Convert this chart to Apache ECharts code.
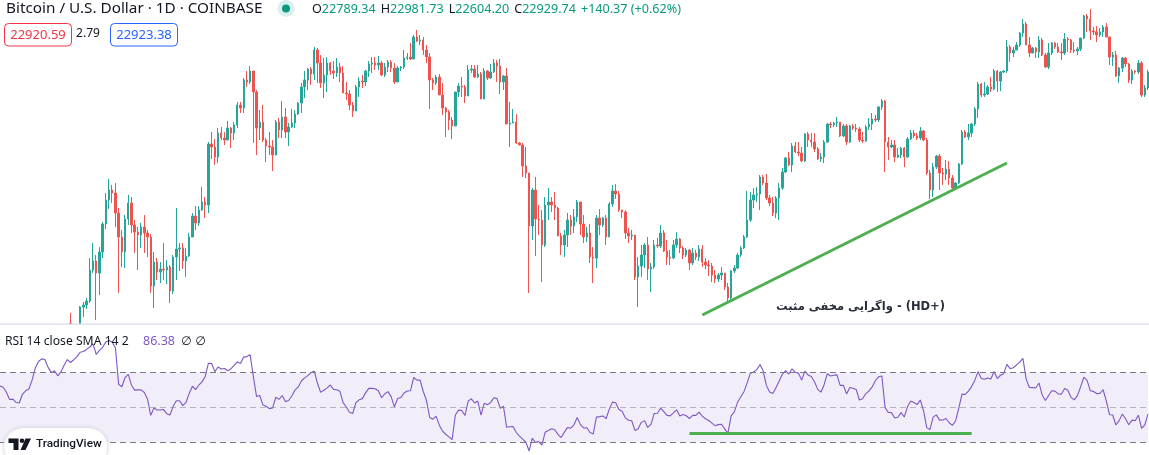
<!DOCTYPE html>
<html><head><meta charset="utf-8">
<script src="https://cdn.jsdelivr.net/npm/echarts/dist/echarts.min.js"></script>
<style>html,body{margin:0;padding:0;background:#fff;overflow:hidden}#c{width:1149px;height:455px}</style>
</head><body><div id="c"></div>
<script>
// Daily BTC/USD candles (price in chart units, 0 = bottom of price pane). Open = previous close.
const hiddenLeadDays = 22;   // days shown only in the RSI pane (price below visible range)
const firstOpen = 0;
const closes = [
-1,-1,-1,16,18,22,53,62,50,71,
99,123,133,130,110,86,71,104,120,98,
91,88,96,90,86,37,61,51,54,53,
56,32,66,74,75,62,67,86,107,100,
113,121,118,179,176,166,190,185,183,195,
190,198,218,215,243,241,252,231,195,201,
183,177,176,168,201,193,206,191,196,200,
209,220,236,243,254,249,273,260,240,248,
260,252,250,256,250,230,229,218,212,236,
242,241,252,259,260,258,260,248,256,261,
255,241,255,256,265,266,264,286,282,283,
273,266,243,240,246,228,215,211,203,197,
231,237,236,227,253,254,246,249,224,252,
245,251,260,257,241,247,199,200,201,180,
178,157,150,97,133,104,103,78,118,121,
118,115,87,78,88,103,97,106,121,99,
86,90,66,65,105,98,105,86,119,132,
129,113,111,90,87,88,46,57,68,78,
54,56,78,77,90,72,66,65,78,84,
75,68,73,60,70,66,74,61,58,57,
48,44,48,50,36,25,52,55,68,75,
86,103,123,128,129,146,140,125,120,110,
125,135,151,165,158,177,171,170,162,189,
183,181,174,164,166,181,199,198,200,201,
187,197,181,197,195,194,183,182,196,199,
204,203,216,222,181,176,178,166,168,175,
166,184,190,187,185,192,183,150,133,156,
167,150,149,154,145,135,140,159,191,186,
190,199,214,239,228,229,236,234,252,242,
251,252,276,270,273,278,290,299,278,270,
275,271,283,268,256,270,280,276,271,270,
284,283,273,272,274,285,307,304,292,291,
288,291,296,286,266,268,247,255,265,259,
243,252,251,260,228,235,251];
const highs = [
10,-1,-1,17,21,25,65,80,68,76,
101,130,144,138,140,115,93,108,128,126,
103,96,100,108,93,89,71,65,61,80,
63,58,68,115,80,80,75,90,110,117,
117,136,126,181,191,184,195,196,191,202,
196,201,221,221,245,252,257,252,233,213,
218,185,191,183,203,205,222,215,200,214,
213,221,240,252,255,256,276,275,268,265,
266,261,262,265,260,257,241,233,221,238,
246,248,253,262,266,266,267,262,260,263,
263,260,257,257,273,270,280,288,293,288,
286,278,270,245,248,249,240,216,213,206,
231,240,246,238,258,258,258,258,251,255,
253,259,264,263,264,248,255,221,214,209,
181,180,176,150,135,146,118,113,126,135,
126,131,116,90,93,110,108,114,123,121,
108,96,99,76,108,114,106,108,121,138,
139,132,113,113,95,93,87,66,78,80,
86,60,83,85,98,93,83,73,83,91,
85,77,75,74,75,73,78,78,65,63,
60,53,50,56,50,40,53,58,70,77,
88,132,131,135,136,148,148,149,128,126,
127,140,155,166,171,180,181,181,176,190,
191,190,190,176,170,183,200,201,201,206,
201,199,199,198,199,199,196,191,198,205,
210,208,217,224,223,186,183,183,175,176,
176,186,193,193,190,196,193,185,153,160,
168,169,155,163,162,148,141,160,193,193,
199,200,216,241,240,241,238,246,254,253,
252,253,283,278,276,281,291,304,301,286,
276,276,287,285,270,280,281,281,280,280,
290,286,284,281,276,285,308,309,314,296,
297,295,298,300,286,271,272,256,266,266,
260,254,253,263,262,238,253];
const lows = [
-1,-1,-1,-1,6,14,20,50,3,28,
65,94,114,120,96,30,56,55,98,90,
70,53,75,70,66,30,15,43,40,43,
39,20,29,43,52,54,46,66,86,93,
97,112,105,110,164,158,160,183,178,183,
175,183,195,210,210,236,239,180,168,183,
181,161,168,152,168,185,185,185,177,195,
195,208,210,225,233,238,243,240,235,225,
231,248,244,246,241,230,223,213,206,212,
226,235,237,246,250,253,253,247,246,251,
251,239,241,252,254,263,263,264,281,278,
268,260,214,233,238,228,208,186,193,184,
197,226,226,220,227,250,245,245,224,224,
243,244,250,241,229,233,199,176,200,179,
178,146,145,30,83,67,88,41,76,103,
111,103,87,68,66,76,88,90,101,88,
80,81,60,40,55,88,96,78,86,116,
124,111,105,84,80,83,43,16,46,55,
43,31,54,75,75,71,58,58,64,75,
70,64,66,53,58,63,62,56,54,47,
41,40,41,43,33,21,23,50,54,66,
74,85,101,115,121,113,138,123,117,107,
105,103,133,150,157,151,170,167,161,161,
176,176,171,163,161,160,180,195,196,196,
186,186,178,180,193,191,181,180,181,193,
193,201,201,213,151,163,175,161,165,165,
156,165,183,185,183,183,182,148,124,126,
154,133,138,143,138,134,134,139,158,185,
183,186,197,205,226,226,228,231,233,231,
232,250,250,261,266,273,276,286,278,266,
270,265,265,267,255,254,268,274,270,263,
268,271,270,270,268,272,284,291,283,288,
281,286,286,286,258,257,246,240,251,256,
240,239,249,249,226,226,233];
// RSI 14 (one value per day, including the lead days)
const rsiValues = [
62.2,61.5,58.7,54.5,54.7,52.8,52.5,57.5,59.5,60.5,
65.6,72.5,76.3,77.8,77.4,72.9,69.9,71.0,68.1,70.3,
74.1,77.4,75.7,77.3,79.1,81.6,82.0,83.2,84.6,86.4,
80.4,82.7,84.4,87.4,88.3,87.5,84.0,63.2,61.8,67.1,
68.9,62.7,59.9,60.0,60.0,58.5,54.8,45.4,49.6,48.5,
48.5,48.8,46.4,45.6,50.6,53.8,53.8,51.0,52.8,58.0,
62.1,60.2,62.8,64.6,67.7,75.3,75.1,70.5,73.1,72.0,
72.3,71.0,72.0,74.1,76.0,75.1,78.8,79.1,80.2,67.8,
56.2,56.8,51.3,50.6,49.3,49.6,55.8,54.6,56.8,53.3,
53.9,56.5,59.9,61.7,65.1,66.9,68.2,69.9,70.8,63.8,
58.6,59.8,61.2,62.8,60.3,60.1,59.2,52.7,50.2,47.2,
46.5,52.7,54.3,55.0,58.3,60.9,60.9,60.7,59.5,55.5,
57.8,59.0,56.0,50.3,55.1,55.6,58.2,59.4,59.5,67.1,
65.6,65.6,59.1,53.9,44.2,43.2,45.0,39.8,36.4,34.6,
33.1,31.6,45.6,48.4,48.2,45.3,53.6,54.9,52.5,53.6,
45.5,52.3,51.5,52.7,55.5,55.0,49.5,50.6,38.6,38.9,
39.0,35.6,33.5,31.8,30.0,25.0,32.3,29.8,30.4,28.4,
35.8,36.7,37.7,37.2,34.5,32.7,35.8,38.5,38.1,40.0,
44.2,40.1,38.2,38.3,35.6,34.8,44.4,44.7,45.1,43.5,
49.0,53.0,52.6,48.8,47.8,44.0,42.6,42.3,36.8,37.8,
41.4,42.4,38.5,40.3,46.4,46.6,49.5,47.5,45.4,45.1,
46.8,48.6,45.0,45.9,45.2,43.6,45.4,45.4,47.3,45.0,
43.5,42.5,41.0,39.5,40.1,40.3,37.7,35.1,45.1,47.4,
52.9,55.9,59.0,64.0,69.6,70.2,71.6,74.6,70.8,62.6,
58.8,57.9,61.4,65.1,69.1,71.1,69.1,72.1,70.0,69.6,
65.6,70.8,68.6,67.7,64.7,60.3,58.7,63.0,69.3,68.0,
68.4,68.6,62.6,62.7,57.7,61.4,61.0,60.3,54.2,54.9,
57.9,59.4,61.7,65.4,67.5,68.0,50.0,47.1,47.0,43.9,
44.3,47.0,44.5,50.3,53.7,52.8,51.6,54.2,48.1,38.4,
37.3,44.4,45.7,42.7,42.8,43.6,41.2,39.7,42.2,49.6,
57.6,57.4,59.3,61.9,65.6,70.5,66.5,66.1,66.8,66.3,
70.5,66.5,68.4,69.3,74.6,72.2,72.7,74.3,75.9,78.1,
66.2,61.4,61.3,61.1,64.0,57.1,53.9,56.8,59.5,59.3,
57.7,57.6,60.8,59.8,55.7,54.3,56.7,61.8,67.3,65.5,
59.6,59.1,57.9,58.0,60.1,53.7,45.8,45.6,39.9,42.4,
46.2,43.5,40.0,42.7,42.3,45.5,37.9,40.0,46.1];
const rsiLevels = [70, 50, 30];
// trend annotations: [dayIndex, value]
const priceTrend = [[219, 8], [314, 160]];
const rsiTrend = [[215, 35.2], [303, 35.2]];
const header = {
  title: 'Bitcoin / U.S. Dollar · 1D · COINBASE',
  o: '22789.34', h: '22981.73', l: '22604.20', c: '22929.74', chg: '+140.37 (+0.62%)',
  bid: '22920.59', spread: '2.79', ask: '22923.38'
};
const rsiLabel = {name: 'RSI 14 close SMA 14 2', value: '86.38', extra: '∅ ∅'};
const annotation = 'واگرایی مخفی مثبت - (HD+)';

const dayCount = hiddenLeadDays + closes.length;
const categories = Array.from({length: dayCount}, (_, i) => 'D' + (i + 1));
const candleData = [];
for (let i = 0; i < hiddenLeadDays; i++) candleData.push(['-', '-', '-', '-']);
closes.forEach((c, k) => {
  const o = k === 0 ? firstOpen : closes[k - 1];
  candleData.push([o, c, Math.min(lows[k], o, c), Math.max(highs[k], o, c)]);
});

const UI = '"Noto Sans", Roboto, sans-serif';
const chart = echarts.init(document.getElementById('c'), null, {renderer: 'canvas'});
const T = (x, y, text, font, fill, align) => ({type: 'text', z: 60, x, y, style: {text, font, fill,
  align: align || 'left', verticalAlign: 'middle', textAlign: align || 'left', textVerticalAlign: 'middle'}});
chart.setOption({
  animation: false,
  backgroundColor: '#ffffff',
  grid: [
    {left: 0, right: 1, top: 0, height: 323},
    {left: 0, right: 1, top: 325, height: 130}
  ],
  xAxis: [
    {type: 'category', gridIndex: 0, data: categories, boundaryGap: false, show: false},
    {type: 'category', gridIndex: 1, data: categories, boundaryGap: false, show: false}
  ],
  yAxis: [
    {type: 'value', gridIndex: 0, min: 0, max: 323, show: false},
    {type: 'value', gridIndex: 1, min: 22.7, max: 97.2, show: false}
  ],
  series: [
    {
      type: 'candlestick', xAxisIndex: 0, yAxisIndex: 0, data: candleData,
      barWidth: 1.9, clip: true,
      itemStyle: {color: '#26a69a', color0: '#ef5350', borderColor: '#26a69a', borderColor0: '#ef5350', borderWidth: 1},
      markLine: {
        silent: true, symbol: ['none', 'none'], label: {show: false},
        lineStyle: {color: '#4caf50', width: 3, type: 'solid'},
        data: [[{coord: priceTrend[0]}, {coord: priceTrend[1]}]]
      }
    },
    {
      type: 'line', xAxisIndex: 1, yAxisIndex: 1, data: rsiValues,
      symbol: 'none', showSymbol: false, z: 3,
      lineStyle: {color: '#7e57c2', width: 1.1},
      markArea: {silent: true, itemStyle: {color: 'rgba(126,87,194,0.1)'},
        data: [[{yAxis: rsiLevels[2]}, {yAxis: rsiLevels[0]}]]},
      markLine: {
        silent: true, symbol: ['none', 'none'], label: {show: false},
        data: [
          {yAxis: rsiLevels[0], lineStyle: {color: '#787b86', type: [6, 4], width: 1}},
          {yAxis: rsiLevels[1], lineStyle: {color: 'rgba(120,123,134,0.5)', type: [6, 4], width: 1}},
          {yAxis: rsiLevels[2], lineStyle: {color: '#787b86', type: [6, 4], width: 1}},
          [{coord: rsiTrend[0], lineStyle: {color: '#4caf50', width: 3, type: 'solid'}},
           {coord: rsiTrend[1], lineStyle: {color: '#4caf50', width: 3, type: 'solid'}}]
        ]
      }
    }
  ],
  graphic: [
    {type: 'rect', z: 50, shape: {x: 0, y: 323.5, width: 1149, height: 1.5}, style: {fill: '#e0e3eb'}},
    T(6, 9, header.title, '15.3px ' + UI, '#131722'),
    {type: 'circle', z: 60, shape: {cx: 286, cy: 8.5, r: 8.5}, style: {fill: 'rgba(8,153,129,0.15)'}},
    {type: 'circle', z: 61, shape: {cx: 286, cy: 8.5, r: 4}, style: {fill: '#089981'}},
    {type: 'text', z: 60, x: 312, y: 9, style: {
      text: '{k|O}{v|' + header.o + '}{s| }{k|H}{v|' + header.h + '}{s| }{k|L}{v|' + header.l + '}{s| }{k|C}{v|' + header.c + '}{s| }{v|' + header.chg + '}',
      font: '12.6px ' + UI, align: 'left', verticalAlign: 'middle', textAlign: 'left', textVerticalAlign: 'middle',
      rich: {k: {fill: '#131722', font: '12.6px ' + UI}, v: {fill: '#089981', font: '12.6px ' + UI}, s: {font: '12.6px ' + UI, width: 5}}}},
    {type: 'rect', z: 60, shape: {x: 4.5, y: 23.5, width: 67, height: 22.5, r: 4}, style: {fill: '#fff', stroke: '#f23645', lineWidth: 1}},
    T(38, 35, header.bid, '13px ' + UI, '#f23645', 'center'),
    T(88, 34, header.spread, '12px ' + UI, '#131722', 'center'),
    {type: 'rect', z: 60, shape: {x: 110.5, y: 23.5, width: 67, height: 22.5, r: 4}, style: {fill: '#fff', stroke: '#2962ff', lineWidth: 1}},
    T(144, 35, header.ask, '13px ' + UI, '#2962ff', 'center'),
    T(945, 307, annotation, 'bold 11.5px "DejaVu Sans", sans-serif', '#2a2e39', 'right'),
    T(5, 341.5, rsiLabel.name, '12.2px ' + UI, '#131722'),
    T(143, 341.5, rsiLabel.value, '12.5px ' + UI, '#7e57c2'),
    T(181, 341.5, rsiLabel.extra, '12px "DejaVu Sans", sans-serif', '#131722'),
    {type: 'rect', z: 70, shape: {x: 3.5, y: 427.5, width: 104.5, height: 40, r: 20}, style: {fill: '#ffffff', stroke: '#e0e3eb', lineWidth: 1, shadowBlur: 4, shadowColor: 'rgba(0,0,0,0.08)'}},
    {type: 'polygon', z: 71, shape: {points: [[8.5, 438.5], [18.5, 438.5], [18.5, 450], [13.5, 450], [13.5, 443], [8.5, 443]]}, style: {fill: '#131722'}},
    {type: 'circle', z: 71, shape: {cx: 22, cy: 440.8, r: 2.3}, style: {fill: '#131722'}},
    {type: 'polygon', z: 71, shape: {points: [[25.5, 438.5], [31, 438.5], [25.5, 450], [20.5, 450]]}, style: {fill: '#131722'}},
    {type: 'text', z: 71, x: 36, y: 444.5, style: {text: 'TradingView', font: '500 11.8px Roboto, sans-serif', fill: '#131722', align: 'left', verticalAlign: 'middle', textAlign: 'left', textVerticalAlign: 'middle'}}
  ]
});
</script>
</body></html>
